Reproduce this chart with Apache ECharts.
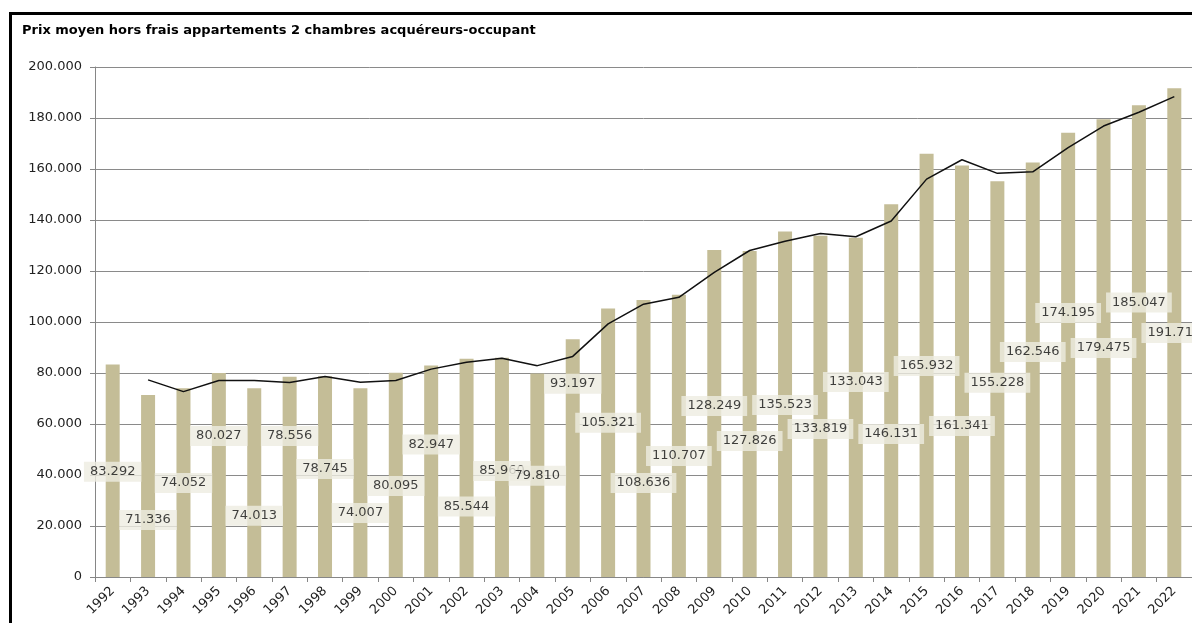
<!DOCTYPE html>
<html>
<head>
<meta charset="utf-8">
<script src="https://cdn.jsdelivr.net/npm/echarts@6/dist/echarts.min.js"></script>
<style>
  html, body { margin: 0; padding: 0; background: #fff; }
  #chart { width: 1192px; height: 623px; }
</style>
</head>
<body>
<div id="chart"></div>
<script>
// années
var years = ['1992','1993','1994','1995','1996','1997','1998','1999','2000','2001','2002',
  '2003','2004','2005','2006','2007','2008','2009','2010','2011','2012','2013','2014',
  '2015','2016','2017','2018','2019','2020','2021','2022'];
// prix moyen (barres)
var prix = [83292, 71336, 74052, 80027, 74013, 78556, 78745, 74007, 80095, 82947, 85544,
  85960, 79810, 93197, 105321, 108636, 110707, 128249, 127826, 135523, 133819, 133043, 146131,
  165932, 161341, 155228, 162546, 174195, 179475, 185047, 191712];
// moyenne mobile (ligne)
var moyenne = [null, 77314, 72694, 77040, 77020, 76285, 78651, 76376, 77051, 81521, 84246,
  85752, 82885, 86504, 99259, 106979, 109672, 119478, 128038, 131675, 134671, 133431, 139587,
  156032, 163637, 158285, 158887, 168371, 176835, 182261, 188379];
// hauteur des étiquettes (en unités de l'axe)
var etiquettes = [41300, 22400, 36900, 55300, 24000, 55300, 42400, 25100, 35700, 52000, 27600,
  41600, 39700, 75800, 60500, 36900, 47500, 67100, 53300, 67500, 58000, 76500, 56100,
  82700, 59200, 76200, 88200, 103500, 89800, 107600, 95700];
// graduations de l'axe vertical
var yMin = 0, yMax = 200000, yStep = 20000;

function fmt(v) {
  if (v === 0) return '0';
  return String(v).replace(/\B(?=(\d{3})+(?!\d))/g, '.');
}

var chart = echarts.init(document.getElementById('chart'), null, { renderer: 'canvas' });

var labelPts = etiquettes.map(function (h, i) { return [i, h]; });

var option = {
  animation: false,
  backgroundColor: '#fff',
  textStyle: { fontFamily: 'DejaVu Sans' },
  title: {
    text: 'Prix moyen hors frais appartements 2 chambres acquéreurs-occupant',
    left: 17, top: 19,
    textStyle: { fontSize: 13, fontWeight: 'bold', color: '#000', fontFamily: 'DejaVu Sans' }
  },
  graphic: [{
    type: 'rect',
    shape: { x: 10.5, y: 13.5, width: 1400, height: 800 },
    style: { fill: 'none', stroke: '#000', lineWidth: 3 },
    z: 100
  }],
  grid: { left: 95, right: -4, top: 67, bottom: 46 },
  xAxis: {
    type: 'category',
    data: years,
    boundaryGap: true,
    axisLine: { lineStyle: { color: '#868686', width: 1 } },
    axisTick: { show: true, length: 5, alignWithLabel: false, lineStyle: { color: '#868686' } },
    axisLabel: { rotate: 45, fontSize: 13, color: '#222', margin: 12, interval: 0 }
  },
  yAxis: {
    type: 'value',
    min: yMin, max: yMax, interval: yStep,
    axisLine: { show: true, lineStyle: { color: '#868686' } },
    axisTick: { show: true, length: 5, lineStyle: { color: '#868686' } },
    axisLabel: { fontSize: 13, color: '#222', margin: 13, formatter: fmt },
    splitLine: { lineStyle: { color: '#8a8a8a', width: 1 } }
  },
  series: [
    {
      name: 'Prix',
      type: 'bar',
      data: prix,
      barWidth: 14,
      itemStyle: { color: '#c4bd97' },
      z: 2
    },
    {
      name: 'Moyenne',
      type: 'line',
      data: moyenne,
      showSymbol: false,
      symbol: 'none',
      lineStyle: { color: '#111', width: 1.5 },
      z: 3
    },
    {
      name: 'Etiquettes',
      type: 'scatter',
      data: labelPts,
      symbolSize: 1,
      itemStyle: { color: 'transparent' },
      z: 4,
      label: {
        show: true,
        position: 'inside',
        formatter: function (p) { return fmt(prix[p.dataIndex]); },
        fontSize: 13,
        color: '#111',
        backgroundColor: '#eeece1',
        padding: [4, 6, 3, 6]
      }
    }
  ]
};
chart.setOption(option);
</script>
</body>
</html>
